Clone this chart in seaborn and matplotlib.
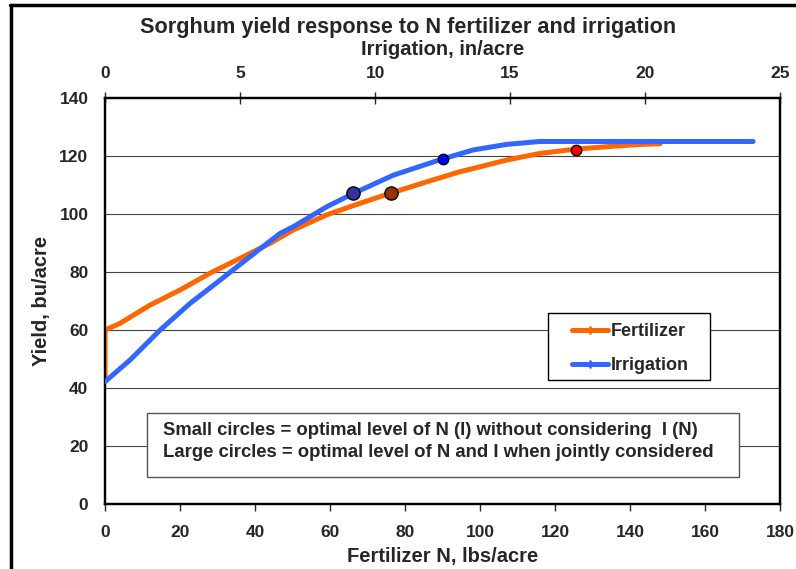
import seaborn as sns
import numpy as np
import matplotlib.pyplot as plt
import pandas as pd
from matplotlib.lines import Line2D
from matplotlib.patches import Rectangle

# fertilizer response (bottom axis, lbs N/acre)
fert_n = [0, 0, 4, 12, 20, 28, 36, 44, 50.2, 59.1, 68, 76, 85.8, 94.7,
          98.2, 107.1, 116, 125.8, 133.8, 142.7, 148]
fert_yield = [42.5, 60, 62.3, 68.6, 73.8, 79.6, 84.7, 89.9, 94.5, 99.7, 103.7, 107.1, 111.1, 114.6,
              115.7, 118.6, 120.9, 122.4, 123.2, 124, 124.2]
# irrigation response (top axis, in/acre)
irr_in = [0, 0.93, 2.04, 3.15, 4.26, 5.37, 6.48, 6.97, 8.21, 9.2, 10.68, 12.47,
          13.64, 14.88, 16.1, 24]
irr_yield = [42.2, 49.7, 60, 69.2, 77.2, 85.3, 93.3, 95.6, 102.5, 107.1, 113.4, 118.9,
             122.1, 124, 125, 125]

# optimal points
small_fert = (125.6, 122.1)
small_irr = (12.5, 118.9)
large_fert = (76.2, 107.1)
large_irr = (9.2, 107.1)

note_lines = ["Small circles = optimal level of N (I) without considering  I (N)",
              "Large circles = optimal level of N and I when jointly considered"]

sns.set_style("white")
plt.rcParams['font.family'] = ['Liberation Sans', 'DejaVu Sans']
plt.rcParams['font.weight'] = 'bold'

fert = pd.DataFrame({"N": fert_n, "Yield": fert_yield})
irr = pd.DataFrame({"I": irr_in, "Yield": irr_yield})

fig = plt.figure(figsize=(7.96, 5.69), dpi=100)
ax = fig.add_axes([0.132, 0.1142, 0.848, 0.7136])

for y in range(20, 140, 20):
    ax.axhline(y, color='#444444', lw=0.8, zorder=0)

sns.lineplot(data=fert, x="N", y="Yield", sort=False, estimator=None,
             color='#FF6600', lw=3.6, ax=ax, zorder=3)
ax.plot(*large_fert, 'o', ms=9.5, mfc='#993300', mec='black', mew=1, zorder=6)
ax.plot(*small_fert, 'o', ms=7.5, mfc='#FF0000', mec='black', mew=1, zorder=6)

ax.set_xlim(0, 180)
ax.set_ylim(0, 140)
ax.set_xticks(range(0, 181, 20))
ax.set_yticks(range(0, 141, 20))
ax.set_xlabel("Fertilizer N, lbs/acre", fontsize=14.5, fontweight='bold', labelpad=5)
ax.set_ylabel("Yield, bu/acre", fontsize=14.5, fontweight='bold', labelpad=6)
ax.tick_params(axis='both', direction='out', length=5, width=1, labelsize=12.5, pad=7)
ax.tick_params(axis='x', pad=10)
for s in ax.spines.values():
    s.set_linewidth(1.6)
    s.set_color('black')

ax2 = ax.twiny()
sns.lineplot(data=irr, x="I", y="Yield", sort=False, estimator=None,
             color='#3366FF', lw=3.6, ax=ax2, zorder=4)
ax2.plot(*large_irr, 'o', ms=9.5, mfc='#333399', mec='black', mew=1, zorder=6)
ax2.plot(*small_irr, 'o', ms=7.5, mfc='#0000FF', mec='black', mew=1, zorder=6)
ax2.set_xlim(0, 25)
ax2.set_ylim(0, 140)
ax2.set_xticks(range(0, 26, 5))
ax2.set_xlabel("Irrigation, in/acre", fontsize=14.5, fontweight='bold', labelpad=8)
ax2.set_ylabel("")
ax2.tick_params(axis='x', direction='inout', length=8, width=1, labelsize=12.5, pad=8)
for s in ax2.spines.values():
    s.set_linewidth(1.6)
    s.set_color('black')

# legend frame drawn separately so the padding matches the original
ax2.add_patch(Rectangle((0.656, 0.305), 0.24, 0.165, transform=ax2.transAxes,
                        facecolor='white', edgecolor='black', lw=1, zorder=8))
handles = [Line2D([], [], color='#FF6600', lw=3.6, marker='d', ms=4),
           Line2D([], [], color='#3366FF', lw=3.6, marker='d', ms=4)]
leg = ax2.legend(handles, ["Fertilizer", "Irrigation"], loc='upper left',
                 bbox_to_anchor=(0.692, 0.445), borderaxespad=0, frameon=False,
                 fontsize=13, handlelength=2.0, handletextpad=0.15,
                 labelspacing=0.92, borderpad=0)
leg.set_zorder(10)

ax2.add_patch(Rectangle((0.0622, 0.0665), 0.877, 0.1575, transform=ax2.transAxes,
                        facecolor='white', edgecolor='#555555', lw=1, zorder=8))
ax2.text(0.086, 0.182, note_lines[0], transform=ax2.transAxes, fontsize=13.3,
         fontweight='bold', va='center', ha='left', zorder=9)
ax2.text(0.086, 0.126, note_lines[1], transform=ax2.transAxes, fontsize=13.3,
         fontweight='bold', va='center', ha='left', zorder=9)

fig.suptitle("Sorghum yield response to N fertilizer and irrigation",
             x=0.513, y=0.970, fontsize=15.6, fontweight='bold')

# outer frame like the original export
fig.add_artist(Line2D([0.0138, 0.0138], [0, 0.991], color='black', lw=2.5,
                      transform=fig.transFigure))
fig.add_artist(Line2D([0.0125, 1], [0.991, 0.991], color='black', lw=2.5,
                      transform=fig.transFigure))

fig.savefig('out.png', dpi=100)
plt.close()
